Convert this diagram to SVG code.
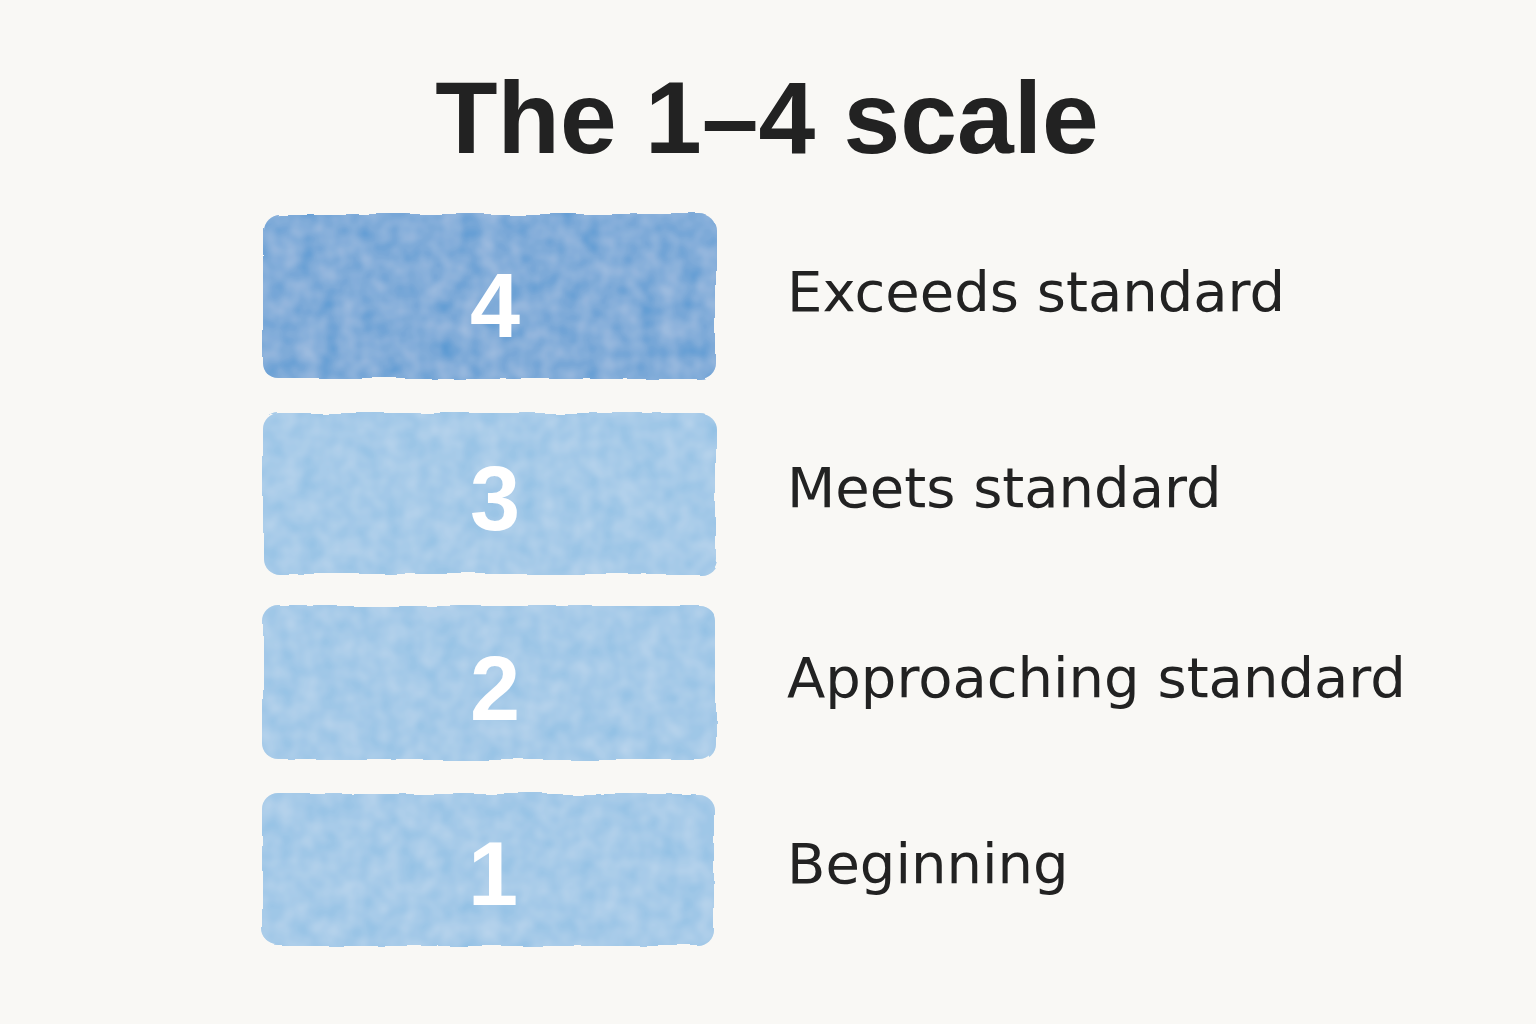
<svg xmlns="http://www.w3.org/2000/svg" width="1536" height="1024" viewBox="0 0 1536 1024">
<defs>
<filter id="wc" x="-5%" y="-5%" width="110%" height="110%">
<feTurbulence type="fractalNoise" baseFrequency="0.02" numOctaves="3" seed="4" result="n"/>
<feDisplacementMap in="SourceGraphic" in2="n" scale="6" result="d"/>
<feTurbulence type="fractalNoise" baseFrequency="0.05" numOctaves="2" seed="9" result="n2"/>
<feColorMatrix in="n2" type="matrix" values="0 0 0 0 1  0 0 0 0 1  0 0 0 0 1  0 0 0 0.3 0" result="w"/>
<feComposite in="w" in2="d" operator="in" result="wm"/>
<feMerge><feMergeNode in="d"/><feMergeNode in="wm"/></feMerge>
</filter>
</defs>
<style>
.t{font-family:"Liberation Sans","DejaVu Sans",sans-serif;fill:#222}
.num{font-family:"Liberation Sans",sans-serif;font-weight:bold;font-size:90px;fill:#fff;text-anchor:middle}
.lab{font-family:"DejaVu Sans","Liberation Sans",sans-serif;font-size:56px;fill:#222}
.light{fill:#8fbfe4}
</style>
<rect width="1536" height="1024" fill="#f9f8f5"/>
<text class="t" x="767" y="153" font-size="102" font-weight="bold" text-anchor="middle">The 1–4 scale</text>
<g id="n4"><rect x="263" y="214" width="453" height="165" rx="16" fill="#5598d2" filter="url(#wc)"/><text class="num" x="495" y="337">4</text><text class="lab" x="787" y="311">Exceeds standard</text></g>
<g id="n3"><rect x="263" y="413" width="453" height="161" rx="16" class="light" filter="url(#wc)"/><text class="num" x="495" y="530">3</text><text class="lab" x="787" y="507">Meets standard</text></g>
<g id="n2"><rect x="263" y="606" width="453" height="154" rx="16" class="light" filter="url(#wc)"/><text class="num" x="495" y="720">2</text><text class="lab" x="787" y="697">Approaching standard</text></g>
<g id="n1"><rect x="263" y="794" width="451" height="152" rx="16" class="light" filter="url(#wc)"/><text class="num" x="493" y="905">1</text><text class="lab" x="787" y="883">Beginning</text></g>
<g id="connectors"/>
</svg>
